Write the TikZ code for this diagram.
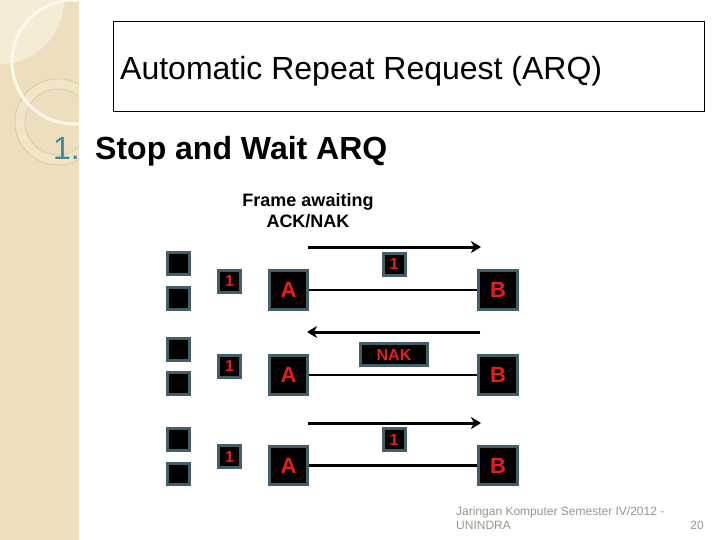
\documentclass[tikz,border=0pt]{standalone}
\usepackage{fontspec}
\setmainfont{Liberation Sans}
\usepackage{tikz}
\usetikzlibrary{arrows.meta,positioning}
\definecolor{striptan}{RGB}{237,223,190}
\definecolor{striplight}{RGB}{245,236,214}
\definecolor{stripwhite}{RGB}{252,248,238}
\definecolor{stripring}{RGB}{220,203,165}
\definecolor{ringband}{RGB}{241,229,200}
\definecolor{bulletteal}{RGB}{56,140,160}
\definecolor{boxrim}{RGB}{64,96,106}
\definecolor{boxred}{RGB}{235,28,28}
\definecolor{footgray}{RGB}{150,150,140}

\begin{document}
\begin{tikzpicture}[x=1pt,y=-1pt,
   sq/.style={draw=boxrim,line width=3pt,fill=black,minimum size=21.5pt,inner sep=0pt},
   endbox/.style={sq,minimum size=38.5pt,text=boxred,font=\bfseries\fontsize{22}{24}\selectfont},
   numbox/.style={sq,minimum size=22pt,text=boxred,font=\bfseries\fontsize{16}{18}\selectfont},
   link/.style={line width=2.5pt},
   msg/.style={line width=3pt,-{Stealth[length=10pt,width=12pt,inset=3pt]}}]
  \useasboundingbox (0,0) rectangle (720,540);
  % side strip
  \fill[striptan] (0,0) rectangle (79,540);
  \begin{scope}
    \clip (0,0) rectangle (79,540);
    \fill[striplight] (0,0) circle (64);
    \fill[ringband,even odd rule] (58,122) circle (43) (58,122) circle (33);
    \draw[stripring,line width=0.8pt] (58,122) circle (43) (58,122) circle (33);
    \draw[stripwhite,line width=3pt] (74,62) circle (62);
  \end{scope}

  % headings
  \node[draw,line width=1pt,anchor=north west,minimum width=591pt,minimum height=90pt] (titlebox) at (113,21) {};
  \node[anchor=base west,inner sep=0pt,font=\fontsize{32}{38}\selectfont] (title) at (120,80) {Automatic Repeat Request (ARQ)};
  \node[anchor=base west,inner sep=0pt,text=bulletteal,font=\fontsize{32}{38}\selectfont] (num) at (53,160) {1.};
  \node[anchor=base west,inner sep=0pt,font=\bfseries\fontsize{32}{38}\selectfont] (sub) at (95,160) {Stop and Wait ARQ};
  \node[align=center,inner sep=0pt,font=\bfseries\fontsize{18}{21}\selectfont] (wait) at (308,210.5) {Frame awaiting\\ACK/NAK};

  % row 1
  \node[endbox] (a1) at (288.5,290) {A};
  \node[endbox,right=168pt of a1] (b1) {B};
  \node[numbox] (n1) at (229.5,281) {1};
  \node[sq] (u1) at (178.5,263.5) {};
  \node[sq] (l1) at (178.5,298.5) {};
  \node[numbox] (f1) at (394,264) {1};
  \coordinate (s1) at (308,247);
  \coordinate (t1) at (481,247);
  \draw[link] (a1) -- (b1);
  \draw[msg] (s1) -- (t1);

  % row 2
  \node[endbox] (a2) at (288.5,375) {A};
  \node[endbox,right=168pt of a2] (b2) {B};
  \node[numbox] (n2) at (229.5,366) {1};
  \node[sq] (u2) at (178.5,349.5) {};
  \node[sq] (l2) at (178.5,383.5) {};
  \node[numbox,minimum width=67pt] (nak) at (394,354.5) {NAK};
  \coordinate (s2) at (307,332);
  \coordinate (t2) at (480,332);
  \draw[link] (a2) -- (b2);
  \draw[msg] (t2) -- (s2);

  % row 3
  \node[endbox] (a3) at (288.5,465.5) {A};
  \node[endbox,right=168pt of a3] (b3) {B};
  \node[numbox] (n3) at (229.5,456.5) {1};
  \node[sq] (u3) at (178.5,439.5) {};
  \node[sq] (l3) at (178.5,474) {};
  \node[numbox] (f3) at (394,439.5) {1};
  \coordinate (s3) at (308,423);
  \coordinate (t3) at (481,423);
  \draw[link] (a3) -- (b3);
  \draw[msg] (s3) -- (t3);

  % footer
  \node[anchor=base west,inner sep=0pt,text=footgray,font=\fontsize{12}{14}\selectfont] (foot1) at (456,515) {Jaringan Komputer Semester IV/2012 -};
  \node[anchor=base west,inner sep=0pt,text=footgray,font=\fontsize{12}{14}\selectfont] (foot2) at (456,529) {UNINDRA};
  \node[anchor=base east,inner sep=0pt,text=footgray,font=\fontsize{12}{14}\selectfont] (page) at (704,529) {20};
\end{tikzpicture}
\end{document}
